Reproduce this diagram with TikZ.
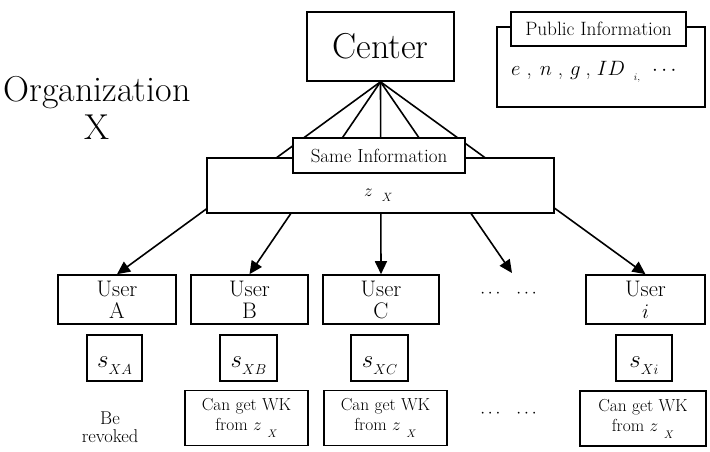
\documentclass[tikz,border=0pt]{standalone}
\usetikzlibrary{arrows.meta}
\newcommand\fsz[2]{\fontsize{#1}{#2}\selectfont}
\newcommand\zsubX[3]{$z$\hspace{#1}\raisebox{#2}{\fsz{#3}{#3}$X$}}
\newcommand\ssub[1]{$s$\raisebox{-7pt}{\fsz{13.5}{13.5}$#1$}}
\begin{document}
\begin{tikzpicture}[x=1pt,y=-1pt,
  box/.style={draw, line width=1.6pt, inner sep=0pt, fill=white},
  userbox/.style={box, minimum height=49pt, align=center, font=\fsz{22.5}{22}},
  sbox/.style={box, minimum height=46pt, font=\fsz{27}{27}, text height=24pt, text depth=6pt},
  wkbox/.style={box, minimum height=55pt, align=center, font=\fsz{17.4}{20}},
  dotsty/.style={anchor=base, inner sep=0pt, font=\fsz{17}{17}},
  arr/.style={line width=1.6pt, -{Triangle[length=13pt,width=12pt]}}]
\useasboundingbox (0,0) rectangle (710,451);

% title
\node[align=center, inner sep=0pt, font=\fsz{36}{38}] (org) at (97,107.5) {Organization\\X};

% users
\node[userbox, minimum width=118pt] (uA) at (117,299.5) {User\\A};
\node[userbox, minimum width=117pt] (uB) at (249.5,299.5) {User\\B};
\node[userbox, minimum width=116pt] (uC) at (381,299.5) {User\\C};
\node[userbox, minimum width=119pt] (ui) at (645.5,299.5) {User\\$i$};
\node[dotsty] (dots1) at (508.5,297) {$\cdots$\hspace{16pt}$\cdots$};

% secrets
\node[sbox, minimum width=55pt] (sA) at (114.5,358) {\ssub{XA}};
\node[sbox, minimum width=57pt] (sB) at (248.5,358) {\ssub{XB}};
\node[sbox, minimum width=57pt] (sC) at (379.5,358) {\ssub{XC}};
\node[sbox, minimum width=56pt] (si) at (644,358) {\ssub{Xi}};

% bottom row
\node[align=center, inner sep=0pt, font=\fsz{18.5}{18}] (rv) at (110,427) {Be\\revoked};
\node[wkbox, minimum width=123pt] (wB) at (246.5,418) {Can get WK\\from \zsubX{6pt}{-7pt}{11}};
\node[wkbox, minimum width=123pt] (wC) at (385.5,418) {Can get WK\\from \zsubX{6pt}{-7pt}{11}};
\node[wkbox, minimum width=126pt] (wi) at (643,418.5) {Can get WK\\from \zsubX{6pt}{-7pt}{11}};
\node[dotsty] (dots2) at (508.5,417) {$\cdots$\hspace{16pt}$\cdots$};

% center
\node[box, minimum width=147pt, minimum height=69pt, font=\fsz{36}{36}] (ctr) at (380.5,46.5) {Center};

% connectors from the center to the users
\coordinate (dd) at (512,273);
\draw[arr] (ctr.south) -- (uA.north);
\draw[arr] (ctr.south) -- (uB.north);
\draw[arr] (ctr.south) -- (uC.north);
\draw[arr] (ctr.south) -- (dd);
\draw[arr] (ctr.south) -- (ui.north);

% shared information box
\node[box, minimum width=347pt, minimum height=55pt] (big) at (380.5,185.5) {};
\node[anchor=base west, inner sep=0pt, font=\fsz{17}{17}] (zx) at (364,196) {\zsubX{9pt}{-5pt}{12}};
\node[box, minimum width=172pt, minimum height=35pt, font=\fsz{19}{19}] (same) at (379,155.5) {Same Information};

% public information
\node[box, minimum width=208pt, minimum height=80pt] (pub) at (601,67) {};
\node[box, minimum width=175pt, minimum height=34pt, font=\fsz{19.3}{19}] (publbl) at (598.5,29) {Public Information};
\node[anchor=base west, inner sep=0pt, font=\fsz{21}{21}] (pubtxt) at (511,75)
  {$e$\hspace{6pt},\hspace{8pt}$n$\hspace{6pt},\hspace{7pt}$g$\hspace{5pt},\hspace{6pt}$ID$\hspace{9pt}\raisebox{-5pt}{\fsz{10}{10}$i$,}\hspace{12pt}$\cdots$};
\end{tikzpicture}
\end{document}
